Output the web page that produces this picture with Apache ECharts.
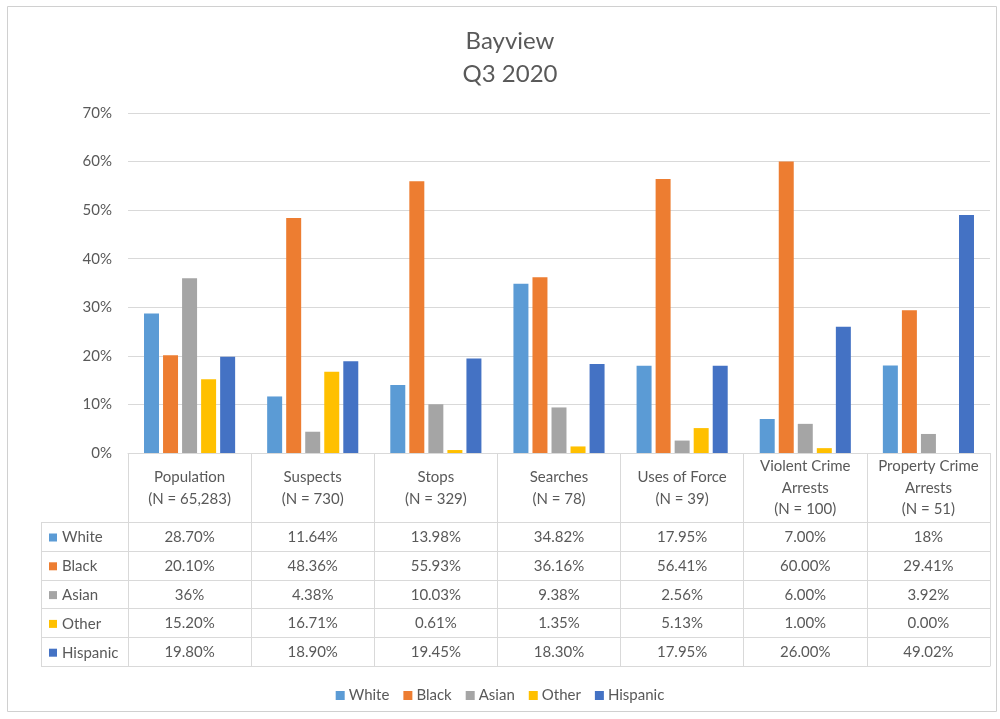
<!DOCTYPE html>
<html>
<head>
<meta charset="utf-8">
<script src="https://cdn.jsdelivr.net/npm/echarts@6/dist/echarts.min.js"></script>
<style>html,body{margin:0;padding:0;background:#fff}#main{width:1000px;height:719px}</style>
</head>
<body>
<div id="main"></div>
<script>
var categories = ['Population\n(N = 65,283)', 'Suspects\n(N = 730)', 'Stops\n(N = 329)', 'Searches\n(N = 78)', 'Uses of Force\n(N = 39)', 'Violent Crime\nArrests\n(N = 100)', 'Property Crime\nArrests\n(N = 51)'];
var seriesNames = ['White', 'Black', 'Asian', 'Other', 'Hispanic'];
var white = ['28.70', '11.64', '13.98', '34.82', '17.95', '7.00', '18'];
var black = ['20.10', '48.36', '55.93', '36.16', '56.41', '60.00', '29.41'];
var asian = ['36', '4.38', '10.03', '9.38', '2.56', '6.00', '3.92'];
var other = ['15.20', '16.71', '0.61', '1.35', '5.13', '1.00', '0.00'];
var hispanic = ['19.80', '18.90', '19.45', '18.30', '17.95', '26.00', '49.02'];
var yTicks = [0, 10, 20, 30, 40, 50, 60, 70];

var rows = [white, black, asian, other, hispanic];
var colors = ['#5B9BD5', '#ED7D31', '#A5A5A5', '#FFC000', '#4472C4'];
var FONT = 'Lato';
var TXT = '#595959';
var LINE = '#D9D9D9';

var chart = echarts.init(document.getElementById('main'), null, {renderer: 'canvas'});

var xAxes = [{
  type: 'category', data: categories, position: 'bottom',
  axisLine: {show: true, lineStyle: {color: LINE, width: 1}},
  axisTick: {show: true, length: 213, interval: 0, lineStyle: {color: LINE}},
  axisLabel: {interval: 0, margin: 35, verticalAlign: 'middle', lineHeight: 21.5,
    fontFamily: FONT, fontSize: 15, color: TXT}
}];
var rowOffsets = [69, 98, 127, 155, 184];
rows.forEach(function (r, i) {
  xAxes.push({
    type: 'category', data: categories, position: 'bottom', offset: rowOffsets[i],
    axisLine: {show: true, lineStyle: {color: LINE, width: 1}},
    axisTick: {show: false},
    axisLabel: {interval: 0, margin: 15, verticalAlign: 'middle',
      fontFamily: FONT, fontSize: 15, color: TXT,
      formatter: function (v, idx) { return r[idx] + '%'; }}
  });
});
xAxes.push({
  type: 'category', data: categories, position: 'bottom', offset: 213,
  axisLine: {show: true, lineStyle: {color: LINE, width: 1}},
  axisTick: {show: false}, axisLabel: {show: false}
});

var series = rows.map(function (r, i) {
  return {
    name: seriesNames[i], type: 'bar', xAxisIndex: 0,
    data: r.map(function (s) { return parseFloat(s); }),
    itemStyle: {color: colors[i]},
    barGap: '27%', barCategoryGap: '26%'
  };
});

var tableLines = [];
[522, 551, 580, 608, 637, 666].forEach(function (y) {
  tableLines.push({type: 'line', shape: {x1: 41, y1: y + 0.5, x2: 128, y2: y + 0.5}, style: {stroke: LINE, lineWidth: 1}, silent: true});
});
tableLines.push({type: 'line', shape: {x1: 41.5, y1: 522, x2: 41.5, y2: 666}, style: {stroke: LINE, lineWidth: 1}, silent: true});
tableLines.push({type: 'rect', shape: {x: 7.5, y: 6.5, width: 989, height: 705}, style: {fill: 'none', stroke: '#D0D0D0', lineWidth: 1}, silent: true, z: -1});

chart.setOption({
  animation: false,
  backgroundColor: '#fff',
  title: {
    text: 'Bayview\nQ3 2020', left: 505, top: 20, textAlign: 'center',
    textStyle: {fontFamily: FONT, fontSize: 24, fontWeight: 'normal', color: TXT, lineHeight: 33}
  },
  legend: [{
    data: seriesNames, top: 683, left: 'center', icon: 'rect', itemWidth: 9, itemHeight: 9, itemGap: 14,
    textStyle: {fontFamily: FONT, fontSize: 15, color: TXT, padding: [0, 0, 0, -1]}
  }, {
    data: seriesNames, orient: 'vertical', left: 44, top: 525, icon: 'rect', itemWidth: 8, itemHeight: 8, itemGap: 13.8,
    textStyle: {fontFamily: FONT, fontSize: 15, color: TXT, lineHeight: 14}
  }],
  grid: {left: 128, right: 10, top: 113, bottom: 266, containLabel: false},
  xAxis: xAxes,
  yAxis: {
    type: 'value', min: yTicks[0], max: yTicks[yTicks.length - 1], interval: 10,
    axisLine: {show: false}, axisTick: {show: false},
    splitLine: {lineStyle: {color: LINE}},
    axisLabel: {formatter: '{value}%', margin: 16, fontFamily: FONT, fontSize: 15, color: TXT}
  },
  series: series,
  graphic: tableLines
});
</script>
</body>
</html>
